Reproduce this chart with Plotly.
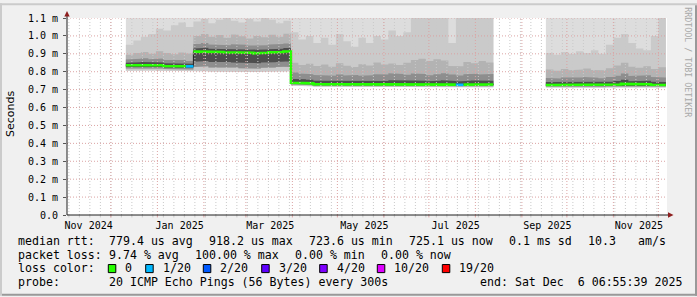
import plotly.graph_objects as go
import pandas as pd

# ---------------------------------------------------------------- data
START = "2024-12-11 00:00"          # time of the first consolidated sample
STEP_DAYS = 5                        # consolidation step
X_RANGE = ["2024-11-01 18:00", "2025-12-06 18:00"]

# median round trip time (ms), None = no data
MEDIAN_MS = [
    0.836, 0.838, 0.839, 0.838, 0.836, 0.832, 0.830, 0.831, 0.830,
    0.912, 0.914, 0.911, 0.910, 0.909, 0.910, 0.907, 0.906, 0.903, 0.906, 0.908, 0.910, 0.913,
    0.738, 0.737, 0.735, 0.731, 0.729, 0.728, 0.729, 0.727, 0.728, 0.727, 0.728, 0.727, 0.728, 0.729,
    0.727, 0.728, 0.727, 0.728, 0.727, 0.728, 0.729, 0.728, 0.727, 0.728, 0.727, 0.728, 0.729,
    None, None, None, None, None, None, None,
    0.726, 0.725, 0.726, 0.725, 0.726, 0.727, 0.726, 0.725, 0.726, 0.729, 0.732, 0.728, 0.729, 0.730,
    0.727, 0.726,
]
# lost pings out of 20
LOSS_COUNT = [
    0, 0, 0, 0, 0, 0, 0, 0, 1,
    0, 0, 0, 0, 0, 0, 0, 0, 0, 0, 0, 0, 0,
    0, 0, 0, 0, 0, 0, 0, 0, 0, 0, 0, 0, 0, 0, 0, 0, 0, 0, 0, 0, 0, 0, 1, 0, 0, 0, 0,
    None, None, None, None, None, None, None,
    0, 0, 0, 0, 0, 0, 0, 0, 0, 0, 0, 0, 0, 0, 0, 0,
]
# smoke: sorted ping quantiles (ms)
PING_MIN_MS = [
    0.806, 0.807, 0.808, 0.807, 0.806, 0.803, 0.802, 0.803, 0.802,
    0.802, 0.803, 0.801, 0.800, 0.802, 0.801, 0.799, 0.800, 0.798, 0.800, 0.801, 0.802, 0.803,
    0.722, 0.721, 0.719, 0.716, 0.714, 0.713, 0.714, 0.712, 0.713, 0.712, 0.713, 0.712, 0.713, 0.714,
    0.712, 0.713, 0.712, 0.713, 0.712, 0.713, 0.714, 0.713, 0.712, 0.713, 0.712, 0.713, 0.714,
    None, None, None, None, None, None, None,
    0.712, 0.711, 0.712, 0.711, 0.712, 0.713, 0.712, 0.711, 0.712, 0.714, 0.716, 0.713, 0.714, 0.715,
    0.712, 0.712,
]
PING_LOW_MS = [
    0.818, 0.820, 0.821, 0.820, 0.818, 0.815, 0.813, 0.814, 0.813,
    0.826, 0.830, 0.824, 0.822, 0.825, 0.823, 0.820, 0.821, 0.818, 0.822, 0.824, 0.826, 0.829,
    0.728, 0.727, 0.725, 0.721, 0.719, 0.718, 0.719, 0.717, 0.718, 0.717, 0.718, 0.717, 0.718, 0.719,
    0.717, 0.718, 0.717, 0.718, 0.717, 0.718, 0.719, 0.718, 0.717, 0.718, 0.717, 0.718, 0.719,
    None, None, None, None, None, None, None,
    0.717, 0.716, 0.717, 0.716, 0.717, 0.718, 0.717, 0.716, 0.717, 0.719, 0.721, 0.718, 0.719, 0.720,
    0.717, 0.717,
]
PING_INNER_LOW_MS = [
    0.827, 0.829, 0.830, 0.829, 0.827, 0.823, 0.821, 0.822, 0.821,
    0.856, 0.860, 0.855, 0.853, 0.854, 0.852, 0.850, 0.851, 0.848, 0.851, 0.853, 0.855, 0.858,
    0.733, 0.732, 0.730, 0.726, 0.724, 0.723, 0.724, 0.722, 0.723, 0.722, 0.723, 0.722, 0.723, 0.724,
    0.722, 0.723, 0.722, 0.723, 0.722, 0.723, 0.724, 0.723, 0.722, 0.723, 0.722, 0.723, 0.724,
    None, None, None, None, None, None, None,
    0.721, 0.720, 0.721, 0.720, 0.721, 0.722, 0.721, 0.720, 0.721, 0.723, 0.725, 0.722, 0.723, 0.724,
    0.721, 0.721,
]
PING_INNER_HIGH_MS = [
    0.850, 0.853, 0.855, 0.853, 0.851, 0.847, 0.845, 0.846, 0.844,
    0.930, 0.934, 0.928, 0.927, 0.926, 0.928, 0.924, 0.923, 0.920, 0.924, 0.926, 0.928, 0.932,
    0.760, 0.758, 0.755, 0.750, 0.748, 0.747, 0.749, 0.746, 0.748, 0.746, 0.747, 0.749, 0.748, 0.752,
    0.750, 0.748, 0.751, 0.749, 0.747, 0.750, 0.752, 0.748, 0.746, 0.749, 0.751, 0.748, 0.750,
    None, None, None, None, None, None, None,
    0.742, 0.741, 0.743, 0.741, 0.743, 0.745, 0.742, 0.741, 0.744, 0.748, 0.755, 0.747, 0.749, 0.750,
    0.744, 0.743,
]
PING_MID_HIGH_MS = [
    0.868, 0.872, 0.875, 0.870, 0.874, 0.866, 0.862, 0.865, 0.860,
    0.955, 0.960, 0.952, 0.950, 0.948, 0.954, 0.950, 0.946, 0.944, 0.948, 0.952, 0.955, 0.958,
    0.795, 0.790, 0.786, 0.782, 0.780, 0.778, 0.785, 0.779, 0.782, 0.777, 0.780, 0.786, 0.784, 0.792,
    0.788, 0.783, 0.790, 0.787, 0.781, 0.786, 0.791, 0.784, 0.779, 0.786, 0.789, 0.784, 0.788,
    None, None, None, None, None, None, None,
    0.765, 0.762, 0.768, 0.764, 0.768, 0.770, 0.766, 0.764, 0.770, 0.778, 0.790, 0.776, 0.778, 0.780,
    0.770, 0.768,
]
PING_HIGH_MS = [
    0.895, 0.905, 0.910, 0.900, 0.915, 0.905, 0.898, 0.908, 0.902,
    1.000, 1.010, 0.995, 1.005, 0.990, 1.008, 0.998, 0.985, 1.000, 0.992, 1.006, 0.996, 1.012,
    0.850, 0.838, 0.845, 0.832, 0.840, 0.828, 0.848, 0.834, 0.826, 0.842, 0.835, 0.852, 0.840, 0.846,
    0.838, 0.850, 0.866, 0.872, 0.860, 0.870, 0.862, 0.832, 0.830, 0.855, 0.848, 0.860, 0.852,
    None, None, None, None, None, None, None,
    0.812, 0.806, 0.815, 0.808, 0.812, 0.818, 0.810, 0.808, 0.820, 0.835, 0.850, 0.828, 0.822, 0.830,
    0.815, 0.825,
]
PING_UPPER_MS = [
    0.950, 0.975, 0.995, 1.010, 1.040, 1.030, 1.060, 1.075, 1.050,
    1.080, 1.095, 1.070, 1.090, 1.102, 1.085, 1.075, 1.095, 1.080, 1.102, 1.090, 1.070, 1.085,
    1.020, 0.980, 1.000, 0.960, 0.990, 0.950, 1.010, 0.970, 0.940, 0.990, 0.960, 1.000, 0.980, 1.030,
    1.000, 1.020, 1.120, 1.120, 1.120, 1.120, 1.120, 0.960, 1.120, 1.120, 1.120, 1.120, 1.120,
    None, None, None, None, None, None, None,
    0.905, 0.895, 0.910, 0.900, 0.915, 0.905, 0.920, 0.900, 0.950, 0.990, 1.010, 0.960, 0.930, 0.920,
    1.000, 1.120,
]
PING_MAX_MS = [
    1.32, 1.41, 1.28, 1.36, 1.45, 1.30, 1.38, 1.33, 1.40,
    1.44, 1.37, 1.52, 1.40, 1.35, 1.48, 1.42, 1.39, 1.46, 1.41, 1.50, 1.38, 1.43,
    1.30, 1.27, 1.35, 1.29, 1.33, 1.26, 1.31, 1.28, 1.34, 1.30, 1.27, 1.36, 1.32, 1.38,
    1.29, 1.33, 1.40, 1.37, 1.35, 1.41, 1.39, 1.25, 1.36, 1.34, 1.38, 1.33, 1.37,
    None, None, None, None, None, None, None,
    1.26, 1.24, 1.28, 1.25, 1.27, 1.29, 1.26, 1.25, 1.30, 1.33, 1.35, 1.31, 1.29, 1.30,
    1.32, 1.38,
]

SMOKE_COLORS = ["#dddddd", "#cacaca", "#b3b3b3", "#8e8e8e", "#4e4e4e"]

LOSS_LABELS = ["0", "1/20", "2/20", "3/20", "4/20", "10/20", "19/20"]
LOSS_THRESHOLDS = [0, 1, 2, 3, 4, 10, 19]
LOSS_COLORS = ["#26ff00", "#00b8ff", "#0059ff", "#5e00ff", "#7e00ff", "#dd00ff", "#ff0000"]

Y_TICKS = [0.0, 0.1, 0.2, 0.3, 0.4, 0.5, 0.6, 0.7, 0.8, 0.9, 1.0, 1.1]
Y_TICK_TEXT = ["0.0", "0.1 m", "0.2 m", "0.3 m", "0.4 m", "0.5 m", "0.6 m",
               "0.7 m", "0.8 m", "0.9 m", "1.0 m", "1.1 m"]
X_TICKS = ["2024-11-16 04:00", "2025-01-15 20:00", "2025-03-17 06:00", "2025-05-19 00:00",
           "2025-07-18 20:00", "2025-09-18 00:00", "2025-11-18 00:00"]
X_TICK_TEXT = ["Nov 2024", "Jan 2025", "Mar 2025", "May 2025", "Jul 2025", "Sep 2025", "Nov 2025"]

LEGEND_LINES = [
    [(16, "median rtt:"), (107.3, "779.4 us avg"), (207.3, "918.2 us max"),
     (307.3, "723.6 us min"), (407.3, "725.1 us now"), (507.3, "0.1 ms sd"),
     (586.3, "10.3"), (635.5, "am/s")],
    [(16, "packet loss:"), (107.3, "9.74 % avg"), (193.3, "100.00 % max"),
     (293.3, "0.00 % min"), (379.3, "0.00 % now")],
    [(16, "loss color:")],
    [(16, "probe:"), (107.3, "20 ICMP Echo Pings (56 Bytes) every 300s"),
     (478.3, "end: Sat Dec  6 06:55:39 2025")],
]
LOSS_BOX_X = [108.3, 145.7, 203.3, 261.7, 319.7, 377.3, 442.3]

# ---------------------------------------------------------------- geometry helpers
W, H = 697, 297
L, R, T, B = 67, 30, 15, 82
PW, PH = W - L - R, H - T - B
FONT = "DejaVu Sans Mono"


def px(xp):
    return (xp - L) / PW


def py(yp):
    return (T + PH - yp) / PH


t0 = pd.Timestamp(START)


def tm(i):
    return t0 + pd.Timedelta(days=STEP_DAYS * i)


n = len(MEDIAN_MS)
runs, cur = [], []
for i in range(n):
    if MEDIAN_MS[i] is None:
        if cur:
            runs.append(cur)
            cur = []
    else:
        cur.append(i)
if cur:
    runs.append(cur)

fig = go.Figure()

bands = [
    (PING_MIN_MS, PING_MAX_MS, SMOKE_COLORS[0]),
    (PING_MIN_MS, PING_UPPER_MS, SMOKE_COLORS[1]),
    (PING_LOW_MS, PING_HIGH_MS, SMOKE_COLORS[2]),
    (PING_LOW_MS, PING_MID_HIGH_MS, SMOKE_COLORS[3]),
    (PING_INNER_LOW_MS, PING_INNER_HIGH_MS, SMOKE_COLORS[4]),
]
for lo, hi, col in bands:
    for run in runs:
        xs, ys = [], []
        for i in run:
            xs += [tm(i), tm(i + 1)]
            ys += [hi[i], hi[i]]
        for i in reversed(run):
            xs += [tm(i + 1), tm(i)]
            ys += [lo[i], lo[i]]
        fig.add_trace(go.Scatter(x=xs, y=ys, mode="lines", fill="toself", fillcolor=col,
                                 line=dict(width=0), hoverinfo="skip", showlegend=False))

# thin dark median
for run in runs:
    xs, ys = [], []
    for i in run:
        xs += [tm(i), tm(i + 1)]
        ys += [MEDIAN_MS[i], MEDIAN_MS[i]]
    fig.add_trace(go.Scatter(x=xs, y=ys, mode="lines", line=dict(color="#202020", width=1),
                             hoverinfo="skip", showlegend=False))


def loss_cat(v):
    k = 0
    for j, th in enumerate(LOSS_THRESHOLDS):
        if v >= th:
            k = j
    return k


for k, col in enumerate(LOSS_COLORS):
    xs, ys = [], []
    prev = False
    for i in range(n):
        ok = MEDIAN_MS[i] is not None and loss_cat(LOSS_COUNT[i]) == k
        if ok:
            xs += [tm(i), tm(i + 1)]
            ys += [MEDIAN_MS[i], MEDIAN_MS[i]]
        elif prev:
            xs.append(None)
            ys.append(None)
        prev = ok
    if xs:
        fig.add_trace(go.Scatter(x=xs, y=ys, mode="lines", line=dict(color=col, width=2.6),
                                 connectgaps=False, hoverinfo="skip", showlegend=False))

# ---------------------------------------------------------------- grid (drawn above data like rrdtool)
shapes = []
GRID_MINOR = "#c9c9c9"
GRID_MAJOR = "#dba3a3"
weeks = pd.date_range("2024-11-03", "2025-12-06", freq="W-SUN")
months = pd.date_range("2024-12-01", "2025-12-01", freq="MS")
for d in weeks:
    shapes.append(dict(type="line", xref="x", yref="paper", x0=d, x1=d, y0=0, y1=1,
                       line=dict(color=GRID_MINOR, width=1, dash="1px,2px"), layer="above"))
    shapes.append(dict(type="line", xref="x", yref="paper", x0=d, x1=d, y0=0, y1=py(217.5),
                       line=dict(color=GRID_MINOR, width=1), layer="above"))
for d in months:
    shapes.append(dict(type="line", xref="x", yref="paper", x0=d, x1=d, y0=0, y1=1,
                       line=dict(color=GRID_MAJOR, width=1, dash="1px,2px"), layer="above"))
    shapes.append(dict(type="line", xref="x", yref="paper", x0=d, x1=d, y0=0, y1=py(217.5),
                       line=dict(color=GRID_MAJOR, width=1), layer="above"))
for v in Y_TICKS[1:]:
    shapes.append(dict(type="line", xref="paper", yref="y", x0=0, x1=1, y0=v, y1=v,
                       line=dict(color=GRID_MAJOR, width=1, dash="1px,2px"), layer="above"))

# axes with arrows
AX = "#202020"
ARROW = "#8e1f1f"
shapes.append(dict(type="line", xref="paper", yref="paper", x0=0, x1=px(669), y0=0, y1=0,
                   line=dict(color=AX, width=1), layer="above"))
shapes.append(dict(type="line", xref="paper", yref="paper", x0=0, x1=0, y0=0, y1=py(11),
                   line=dict(color=AX, width=1), layer="above"))
shapes.append(dict(type="path", xref="paper", yref="paper",
                   path=f"M {px(668)} {py(212.3)} L {px(673.5)} {py(215)} L {px(668)} {py(217.7)} Z",
                   fillcolor=ARROW, line=dict(width=0), layer="above"))
shapes.append(dict(type="path", xref="paper", yref="paper",
                   path=f"M {px(64.3)} {py(13.5)} L {px(67)} {py(8)} L {px(69.7)} {py(13.5)} Z",
                   fillcolor=ARROW, line=dict(width=0), layer="above"))

# frame (3D shading like rrdtool)
shapes.append(dict(type="rect", xref="paper", yref="paper", x0=px(0), x1=px(697), y0=py(0), y1=py(2),
                   fillcolor="#cbcbcb", line=dict(width=0), layer="above"))
shapes.append(dict(type="rect", xref="paper", yref="paper", x0=px(0), x1=px(2), y0=py(0), y1=py(297),
                   fillcolor="#cbcbcb", line=dict(width=0), layer="above"))
shapes.append(dict(type="rect", xref="paper", yref="paper", x0=px(2), x1=px(697), y0=py(295), y1=py(297),
                   fillcolor="#999999", line=dict(width=0), layer="above"))
shapes.append(dict(type="rect", xref="paper", yref="paper", x0=px(695), x1=px(697), y0=py(2), y1=py(297),
                   fillcolor="#999999", line=dict(width=0), layer="above"))

# loss colour boxes
for bx, col in zip(LOSS_BOX_X, LOSS_COLORS):
    shapes.append(dict(type="rect", xref="paper", yref="paper", x0=px(bx), x1=px(bx + 7.5),
                       y0=py(265.3), y1=py(273.5), fillcolor=col,
                       line=dict(color="#000000", width=1), layer="above"))

# ---------------------------------------------------------------- text
ann = []
LINE_Y = [241.5, 255.2, 269.2, 282.8]
for row, items in enumerate(LEGEND_LINES):
    for xp, txt in items:
        ann.append(dict(text=txt, x=px(xp), y=py(LINE_Y[row]), xref="paper", yref="paper",
                        xanchor="left", yanchor="middle", showarrow=False,
                        font=dict(family=FONT, size=11.6, color="#000000")))
for bx, lab in zip(LOSS_BOX_X, LOSS_LABELS):
    ann.append(dict(text=lab, x=px(bx + 15), y=py(LINE_Y[2]), xref="paper", yref="paper",
                    xanchor="left", yanchor="middle", showarrow=False,
                    font=dict(family=FONT, size=11.6, color="#000000")))
ann.append(dict(text="Seconds", x=px(10.5), y=py(113), xref="paper", yref="paper",
                xanchor="center", yanchor="middle", textangle=-90, showarrow=False,
                font=dict(family="DejaVu Sans", size=11, color="#000000")))
ann.append(dict(text="RRDTOOL / TOBI OETIKER", x=px(688), y=py(60), xref="paper", yref="paper",
                xanchor="center", yanchor="middle", textangle=90, showarrow=False,
                font=dict(family=FONT, size=8.3, color="#a8a8a8")))

fig.update_layout(
    width=W, height=H,
    margin=dict(l=L, r=R, t=T, b=B, pad=0),
    paper_bgcolor="#f0f0f0", plot_bgcolor="#ffffff",
    showlegend=False,
    shapes=shapes, annotations=ann,
    xaxis=dict(type="date", range=X_RANGE, showgrid=False, zeroline=False, showline=False,
               tickmode="array", tickvals=X_TICKS, ticktext=X_TICK_TEXT, ticks="",
               ticklabelstandoff=3,
               tickfont=dict(family=FONT, size=10, color="#000000")),
    yaxis=dict(range=[0, 1.1], showgrid=False, zeroline=False, showline=False,
               tickmode="array", tickvals=Y_TICKS, ticktext=Y_TICK_TEXT,
               ticks="outside", ticklen=3, tickcolor="#555555", ticklabelstandoff=3,
               tickfont=dict(family=FONT, size=10, color="#000000")),
)

fig.write_html("out.html")
